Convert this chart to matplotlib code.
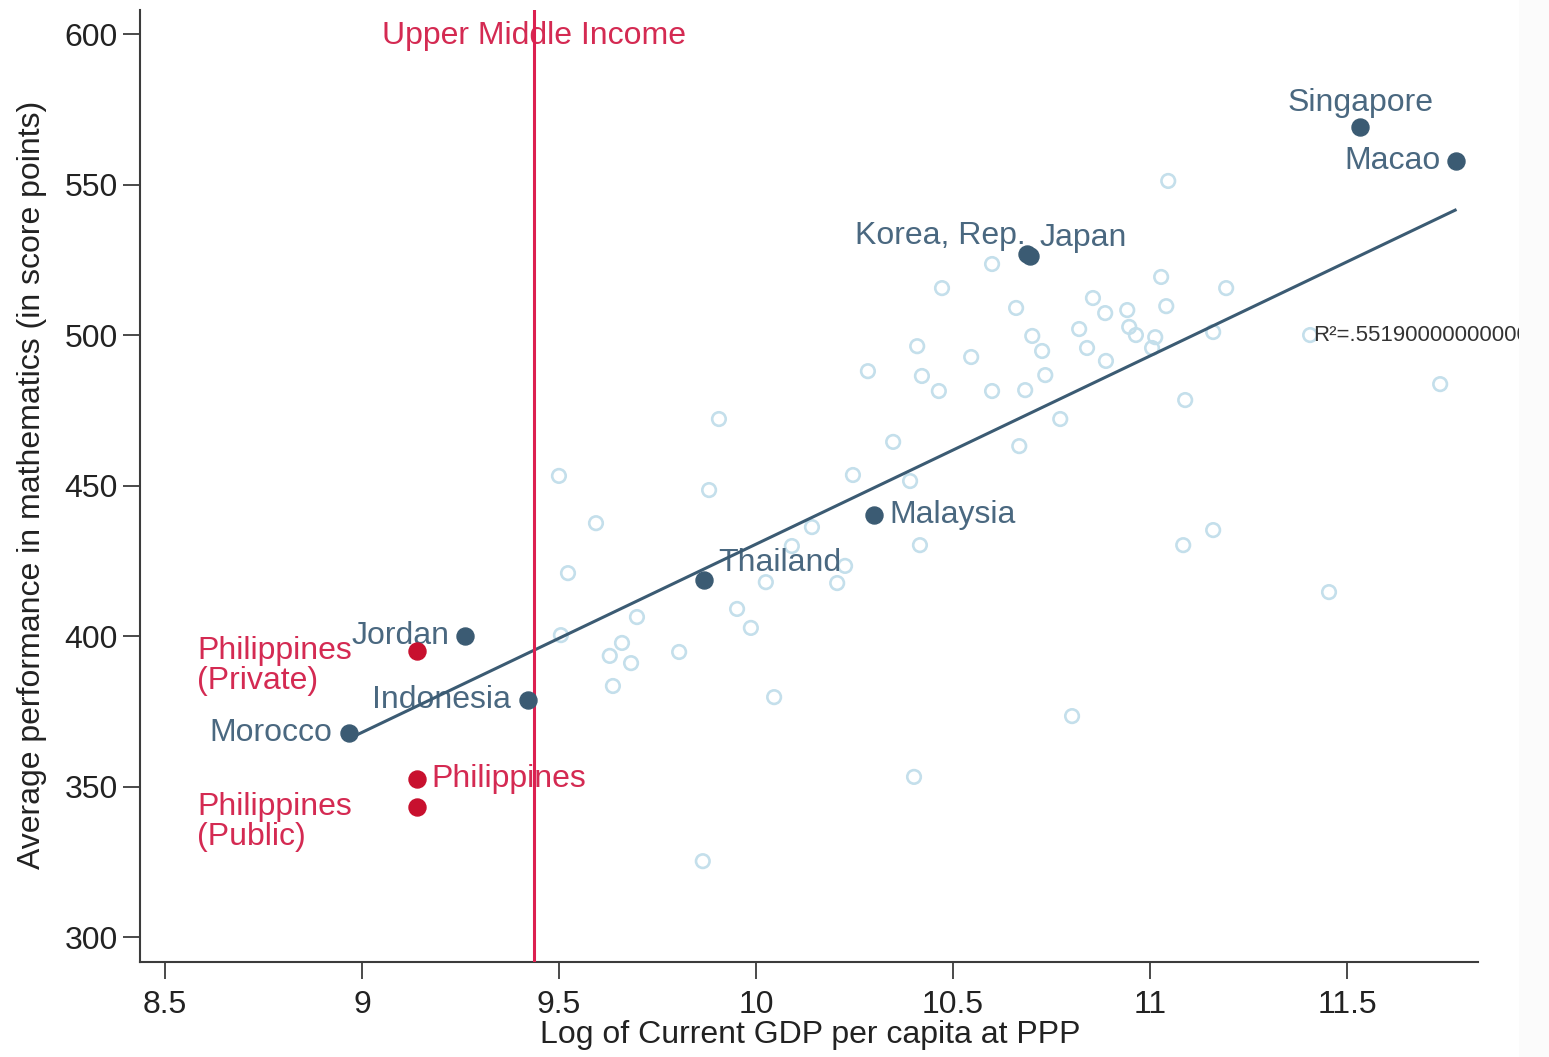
import matplotlib.pyplot as plt
from matplotlib.patches import Rectangle

plt.rcParams['font.family'] = ['Liberation Sans', 'DejaVu Sans']

# ── data ─────────────────────────────────────────────
# all other PISA countries (hollow markers)
other_x = [11.046, 10.599, 10.472, 11.028, 11.193, 10.855, 10.660, 11.041, 10.886, 10.942,
           10.820, 10.701, 10.947, 10.964, 11.013, 11.005, 10.840, 10.726, 10.888, 11.160,
           11.406, 10.409, 10.546, 10.284, 10.421, 10.464, 10.599, 10.683, 10.734, 11.089,
           11.736, 9.906, 10.772, 10.348, 10.668, 9.500, 10.246, 9.881, 10.391, 9.594,
           10.142, 10.091, 10.416, 11.084, 11.160, 9.523, 10.226, 10.025, 10.206, 9.698,
           9.952, 9.987, 9.505, 9.660, 9.629, 9.683, 9.805, 9.637, 10.046, 10.802,
           11.454, 10.401, 9.865]
other_y = [551.2, 523.6, 515.6, 519.3, 515.6, 512.3, 509.0, 509.6, 507.3, 508.3,
           502.0, 499.7, 502.7, 500.0, 499.3, 495.7, 495.7, 494.7, 491.4, 501.0,
           500.0, 496.3, 492.7, 488.0, 486.4, 481.4, 481.4, 481.7, 486.7, 478.4,
           483.7, 472.1, 472.1, 464.5, 463.1, 453.2, 453.5, 448.5, 451.5, 437.5,
           436.2, 429.9, 430.2, 430.2, 435.2, 420.9, 423.3, 417.9, 417.6, 406.3,
           409.0, 402.7, 400.3, 397.7, 393.4, 391.0, 394.7, 383.4, 379.7, 373.4,
           414.6, 353.2, 325.2]

# highlighted countries
country_names = ["Singapore", "Macao", "Korea, Rep.", "Japan", "Malaysia",
                 "Thailand", "Jordan", "Indonesia", "Morocco"]
country_x = [11.533, 11.777, 10.688, 10.695, 10.300, 9.868, 9.261, 9.421, 8.967]
country_y = [569.1, 557.8, 526.9, 526.2, 440.2, 418.6, 400.0, 378.7, 367.8]

# Philippines (all, private, public)
ph_names = ["Philippines\n(Private)", "Philippines", "Philippines\n(Public)"]
ph_x = [9.140, 9.140, 9.140]
ph_y = [395.0, 352.5, 343.2]

# fitted line and income threshold
fit_x = [8.975, 11.774]
fit_y = [366.4, 541.5]
r2_text = "R\u00b2=.5519000000000001"
umi_threshold = 9.437

x_ticks = [8.5, 9, 9.5, 10, 10.5, 11, 11.5]
x_ticklabels = ["8.5", "9", "9.5", "10", "10.5", "11", "11.5"]
y_ticks = [300, 350, 400, 450, 500, 550, 600]

# ── style ────────────────────────────────────────────
NAVY = "#3b5b73"
NAVY_TXT = "#4a6880"
RED = "#c8102e"
RED_TXT = "#d42a52"
LIGHT = "#c4dfeb"
FS = 23

# label placement: (dx pt, dy pt, ha)
country_offsets = {
    "Singapore": (0, 17, "center"),
    "Macao": (-11, 0, "right"),
    "Korea, Rep.": (-1, 13, "right"),
    "Japan": (7, 13, "left"),
    "Malaysia": (11, 0, "left"),
    "Thailand": (10, 12, "left"),
    "Jordan": (-11, 0, "right"),
    "Indonesia": (-12, 0, "right"),
    "Morocco": (-12, 0, "right"),
}
ph_offsets = [(-47, -11, "right"), (10, 0, "left"), (-47, -11, "right")]

W, H = 1549, 1057
fig = plt.figure(figsize=(W / 100, H / 100), dpi=100)
ax = fig.add_axes([140 / W, 1 - 962 / H, (1478 - 140) / W, (962 - 10) / H])

ax.scatter(other_x, other_y, s=95, facecolors="none", edgecolors=LIGHT,
           linewidths=1.9, zorder=2)
ax.scatter(country_x, country_y, s=150, color=NAVY, zorder=5)
ax.scatter(ph_x, ph_y, s=150, color=RED, zorder=5)

ax.plot(fit_x, fit_y, color=NAVY, linewidth=2.2, zorder=4)
ax.axvline(umi_threshold, color="#dc2050", linewidth=2.2, zorder=4)
ax.text(umi_threshold, 599.5, "Upper Middle Income", color=RED_TXT, fontsize=FS,
        ha="center", va="center", zorder=3)

for name, x, y in zip(country_names, country_x, country_y):
    dx, dy, ha = country_offsets[name]
    ax.annotate(name, (x, y), xytext=(dx, dy), textcoords="offset points",
                ha=ha, va="center", fontsize=FS, color=NAVY_TXT, zorder=3)

for name, x, y, (dx, dy, ha) in zip(ph_names, ph_x, ph_y, ph_offsets):
    ax.annotate(name, (x, y), xytext=(dx, dy), textcoords="offset points",
                ha=ha, va="center", multialignment="left", linespacing=1.0,
                fontsize=FS, color=RED_TXT, zorder=3)

ax.text(11.414, 499.7, r2_text, fontsize=16, color="#333333", ha="left",
        va="center", zorder=6, clip_on=False)

ax.set_xlim(8.437, 11.832)
ax.set_ylim(291.7, 608.0)
ax.set_xticks(x_ticks)
ax.set_xticklabels(x_ticklabels)
ax.set_yticks(y_ticks)

for side in ("top", "right"):
    ax.spines[side].set_visible(False)
for side in ("left", "bottom"):
    ax.spines[side].set_color("#3c3c3c")
    ax.spines[side].set_linewidth(1.5)
ax.tick_params(axis="both", length=12, width=1.3, color="#3c3c3c",
               labelsize=FS, labelcolor="#222222")
ax.tick_params(axis="y", pad=4)
ax.tick_params(axis="x", pad=8)

fig.text(32 / W, 1 - 485 / H, "Average performance in mathematics (in score points)",
         rotation=90, ha="center", va="center", fontsize=FS, color="#222222")
fig.text(810 / W, 1 - 1035 / H, "Log of Current GDP per capita at PPP",
         ha="center", va="center", fontsize=FS, color="#222222")

# faint strip at the right edge of the original image
fig.patches.append(Rectangle((1519 / W, 0), 30 / W, 1, transform=fig.transFigure,
                             facecolor="#fbfbfb", edgecolor="none", zorder=10))

fig.savefig("out.png", dpi=100)
